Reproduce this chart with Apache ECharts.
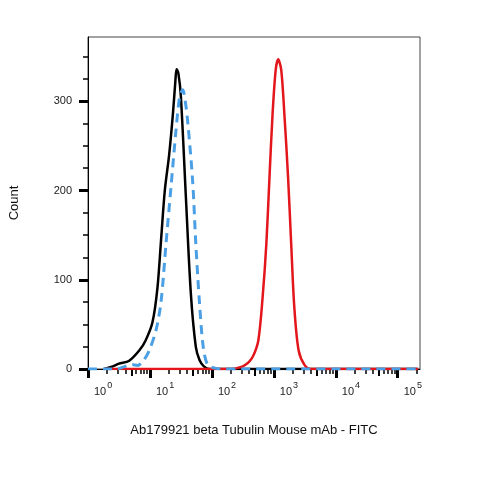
<!DOCTYPE html>
<html>
<head>
<meta charset="utf-8">
<script src="https://cdn.jsdelivr.net/npm/echarts@6/dist/echarts.min.js"></script>
<style>
html,body{margin:0;padding:0;background:#fff;}
#chart{width:479px;height:479px;}
</style>
</head>
<body>
<div id="chart"></div>
<script>
// x values are in decades (log10 of fluorescence intensity)
var xTickDecades = [0, 1, 2, 3, 4, 5];
var yTickValues = [0, 100, 200, 300];
var yMinorValues = [25, 50, 75, 125, 150, 175, 225, 250, 275, 325, 350];

var xBlack = [0.26, 0.40, 0.50, 0.66, 0.83, 0.93, 1.04, 1.12, 1.18, 1.24, 1.31, 1.37, 1.41, 1.43, 1.46, 1.50, 1.58, 1.66, 1.74, 1.80, 1.87, 1.96, 2.10, 5.33];
var yBlack = [0,    3,    6,    9,    21,   32,   52,   90,   145,  200,  240,  285,  322,  336,  331,  305,  193,  85,   25,   10,   3,    0,    0,    0];

var xBlue = [0, 0.45, 0.60, 0.70, 0.80, 0.90, 0.99, 1.10, 1.18, 1.26, 1.34, 1.42, 1.48, 1.53, 1.57, 1.61, 1.69, 1.74, 1.80, 1.86, 1.93, 2.05, 2.20, 2.40, 5.33];
var yBlue = [0, 0,    3,    5,    4,    10,   21,   44,   76,   141,  204,  267,  305,  313,  300,  277,  210,  141,  74,   25,   5,    1,    0,    0,    0];

var xRed = [0.26, 2.10, 2.28, 2.40, 2.50, 2.60, 2.67, 2.75, 2.82, 2.88, 2.93, 2.98, 3.03, 3.07, 3.12, 3.17, 3.23, 3.28, 3.33, 3.40, 3.50, 3.60, 3.80, 5.33];
var yRed = [0,    0,    0,    1,    3,    8,    15,   32,   81,   141,  215,  286,  335,  347,  335,  286,  215,  141,  70,   21,   4,    0,    0,    0];

var X_MAX = 5.36, Y_MAX = 372;

function pairs(xs, ys) { return xs.map(function (x, i) { return [x, ys[i]]; }); }

var minorTicks = [], midTicks = [];
xTickDecades.forEach(function (d) {
  [2, 3, 4, 6, 7, 8, 9].forEach(function (k) {
    var v = d + Math.log10(k); if (v <= X_MAX) minorTicks.push(v);
  });
  var v5 = d + Math.log10(5); if (v5 <= X_MAX) midTicks.push(v5);
});

var FONT = 'Liberation Sans, Arial, sans-serif';

var chart = echarts.init(document.getElementById('chart'));
chart.setOption({
  animation: false,
  backgroundColor: '#fff',
  grid: { left: 88, right: 59, top: 37, bottom: 110, show: true, borderColor: '#444', borderWidth: 1 },
  xAxis: [
    {
      type: 'value', min: 0, max: X_MAX, position: 'bottom',
      axisLine: { show: true, onZero: false, lineStyle: { color: '#000', width: 1 } },
      axisTick: { show: true, customValues: xTickDecades, length: 9, lineStyle: { color: '#000', width: 3 } },
      axisLabel: {
        customValues: xTickDecades, align: 'left', padding: [0, 0, 0, 6], margin: 12,
        formatter: function (v) { return '{b|10}{s|' + Math.round(v) + '}'; },
        rich: {
          b: { fontSize: 11, fontFamily: FONT, color: '#222', verticalAlign: 'bottom', lineHeight: 16 },
          s: { fontSize: 9, fontFamily: FONT, color: '#222', verticalAlign: 'top', padding: [0, 0, 0, 1] }
        }
      },
      splitLine: { show: false },
      name: 'Ab179921 beta Tubulin Mouse mAb - FITC', nameLocation: 'middle', nameGap: 55,
      nameTextStyle: { fontSize: 13, fontFamily: FONT, color: '#111' }
    },
    {
      type: 'value', min: 0, max: X_MAX, position: 'bottom',
      axisLine: { show: false }, axisLabel: { show: false }, splitLine: { show: false },
      axisTick: { show: true, customValues: minorTicks, length: 5, lineStyle: { color: '#000', width: 1.5 } }
    },
    {
      type: 'value', min: 0, max: X_MAX, position: 'bottom',
      axisLine: { show: false }, axisLabel: { show: false }, splitLine: { show: false },
      axisTick: { show: true, customValues: midTicks, length: 7, lineStyle: { color: '#000', width: 2 } }
    }
  ],
  yAxis: [
    {
      type: 'value', min: 0, max: Y_MAX, position: 'left',
      axisLine: { show: true, onZero: false, lineStyle: { color: '#000', width: 1 } },
      axisTick: { show: true, customValues: yTickValues, length: 9, lineStyle: { color: '#000', width: 3 } },
      axisLabel: { customValues: yTickValues, margin: 16, fontSize: 11, fontFamily: FONT, color: '#222' },
      splitLine: { show: false },
      name: 'Count', nameLocation: 'middle', nameGap: 67, nameRotate: 90,
      nameTextStyle: { fontSize: 13, fontFamily: FONT, color: '#111' }
    },
    {
      type: 'value', min: 0, max: Y_MAX, position: 'left',
      axisLine: { show: false }, axisLabel: { show: false }, splitLine: { show: false },
      axisTick: { show: true, customValues: yMinorValues, length: 5, lineStyle: { color: '#000', width: 1.5 } }
    }
  ],
  series: [
    {
      type: 'line', xAxisIndex: 0, yAxisIndex: 0, data: pairs(xBlack, yBlack),
      showSymbol: false, smooth: 0.3,
      lineStyle: { color: '#000', width: 2.5 }
    },
    {
      type: 'line', xAxisIndex: 0, yAxisIndex: 0, data: pairs(xRed, yRed),
      showSymbol: false, smooth: 0.3,
      lineStyle: { color: '#e3161c', width: 2.5 }
    },
    {
      type: 'line', xAxisIndex: 0, yAxisIndex: 0, data: pairs(xBlue, yBlue),
      showSymbol: false, smooth: 0.3,
      lineStyle: { color: '#4b9fe4', width: 3, type: [9, 6] }
    }
  ]
});
</script>
</body>
</html>
